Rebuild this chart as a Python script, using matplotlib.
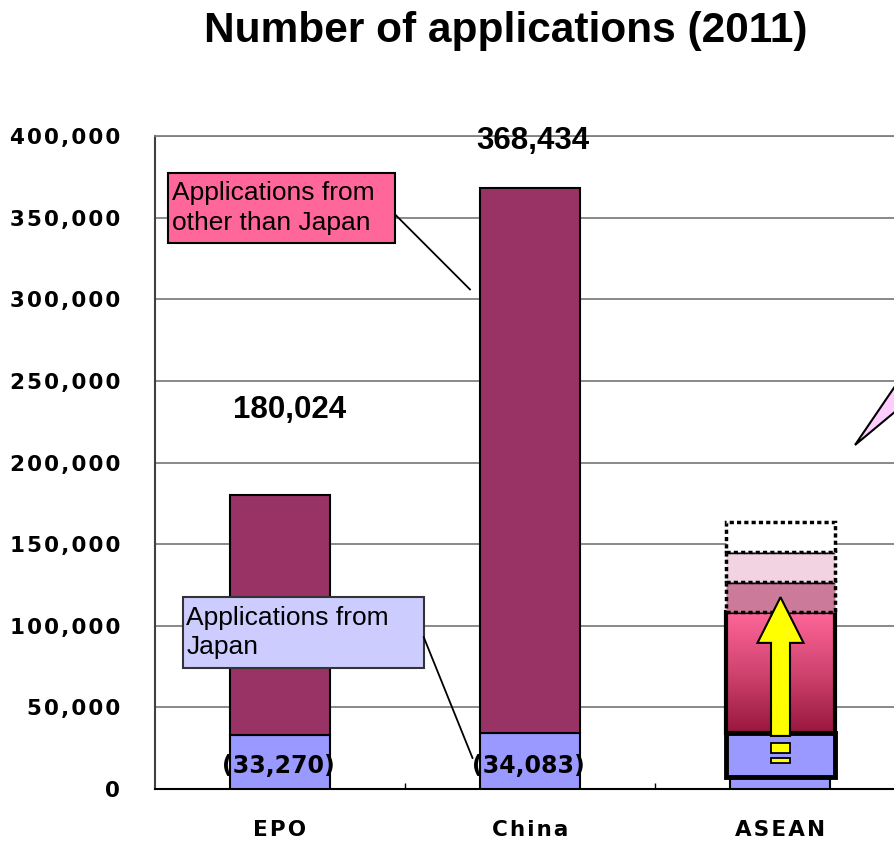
import numpy as np
import matplotlib.pyplot as plt
from matplotlib.patches import Rectangle, Polygon
from matplotlib.colors import LinearSegmentedColormap

categories = ['EPO', 'China', 'ASEAN']
from_japan = [33270, 34083, 7500]
totals = [180024, 368434]          # EPO, China
japan_labels = ['(33,270)', '(34,083)']
total_labels = ['180,024', '368,434']
# ASEAN illustration levels (bottom of blue box .. top of dotted box)
asean_levels = [7500, 34000, 108500, 127000, 145000, 163500]
yticks = list(range(0, 400001, 50000))

c_japan = '#9999FF'
c_other = '#993366'

def spaced(s):
    return '\u200a'.join(s)

fig = plt.figure(figsize=(8.95, 8.41), dpi=100)
ax = fig.add_axes([155/895, 52/841, 750/895, 653/841])

x = np.arange(len(categories))
other = [t - j for t, j in zip(totals, from_japan[:2])]

ax.bar(x, from_japan, width=0.4, color=c_japan, edgecolor='black', lw=1.5, zorder=3)
ax.bar(x[:2], other, bottom=from_japan[:2], width=0.4, color=c_other,
       edgecolor='black', lw=1.5, zorder=3)

# value labels
ax.text(0.04, 232000, total_labels[0], ha='center', va='center',
        fontsize=22.5, fontweight='bold', family='Liberation Sans')
ax.text(1.01, 397000, total_labels[1], ha='center', va='center',
        fontsize=22.5, fontweight='bold', family='Liberation Sans', zorder=5)
for i, lab in enumerate(japan_labels):
    ax.text(x[i] - 0.005, 14100, lab, ha='center', va='center',
            fontsize=17, fontweight='bold', zorder=5)

# ASEAN illustration
bw = 0.436
bx = 2.002 - bw / 2
lv = asean_levels
ax.add_patch(Rectangle((bx, lv[0]), bw, lv[1] - lv[0], fc=c_japan, ec='black', lw=3.5, zorder=4))
cmap = LinearSegmentedColormap.from_list('g', ['#99173F', '#D04470', '#FF6699'])
grad = np.linspace(0, 1, 100).reshape(-1, 1)
ax.imshow(grad, extent=[bx, bx + bw, lv[1], lv[2]], origin='lower', cmap=cmap,
          aspect='auto', zorder=4)
ax.add_patch(Rectangle((bx, lv[1]), bw, lv[2] - lv[1], fc='none', ec='black', lw=3, zorder=4))
ax.add_patch(Rectangle((bx, lv[2]), bw, lv[3] - lv[2], fc='#CC7A99', ec='black',
                       lw=2.5, ls=(0, (1.2, 0.9)), zorder=4))
ax.add_patch(Rectangle((bx, lv[3]), bw, lv[4] - lv[3], fc='#F2D3E1', ec='black',
                       lw=2.5, ls=(0, (1.2, 0.9)), zorder=4))
ax.add_patch(Rectangle((bx, lv[4]), bw, lv[5] - lv[4], fc='white', ec='black',
                       lw=2.5, ls=(0, (1.2, 0.9)), zorder=4))
ax.arrow(2.002, 32500, 0, 85000, width=0.076, head_width=0.184, head_length=28000,
         length_includes_head=True, fc='#FFFF00', ec='black', lw=1.5, zorder=6)
ax.add_patch(Rectangle((1.964, 22000), 0.076, 6200, fc='#FFFF00', ec='black', lw=1.3, zorder=6))
ax.add_patch(Rectangle((1.964, 15900), 0.076, 3100, fc='#FFFF00', ec='black', lw=1.3, zorder=6))

# callout pointer at right edge
ax.add_patch(Polygon([(2.3, 210700), (2.75, 312000), (2.75, 268000)], closed=True,
                     fc='#FFCCFF', ec='black', lw=1.5, clip_on=False, zorder=6))

# annotation boxes
ax.add_patch(Rectangle((-0.45, 334500), 0.91, 42800, fc='#FF6699', ec='black', lw=1.5,
                       clip_on=False, zorder=6))
ax.text(-0.43, 356000, 'Applications from\nother than Japan', ha='left', va='center',
        fontsize=19, family='Liberation Sans', linespacing=1.3, zorder=7)
ax.plot([0.46, 0.76], [352000, 306000], color='black', lw=1.3, zorder=6)

ax.add_patch(Rectangle((-0.39, 74000), 0.965, 43600, fc='#CCCCFF', ec='#333333', lw=1.5,
                       clip_on=False, zorder=6))
ax.text(-0.375, 95800, 'Applications from\nJapan', ha='left', va='center',
        fontsize=19, family='Liberation Sans', linespacing=1.3, zorder=7)
ax.plot([0.575, 0.77], [93000, 19000], color='black', lw=1.3, zorder=6)

# axes styling
ax.set_xlim(-0.5, 2.5)
ax.set_ylim(0, 400000)
ax.set_yticks(yticks)
ax.set_yticklabels([spaced(f'{v:,}') for v in yticks], fontweight='bold', fontsize=15.5)
ax.set_xticks(x)
ax.set_xticklabels([spaced(c) for c in categories], fontweight='bold', fontsize=15.5)
ax.set_xticks([0.5, 1.5], minor=True)
ax.tick_params(axis='y', length=0, pad=25)
ax.tick_params(axis='x', which='major', length=0, pad=22)
ax.tick_params(axis='x', which='minor', direction='in', length=4.5, width=1)
ax.grid(axis='y', color='#808080', lw=1.3, zorder=0)
ax.set_axisbelow(True)
ax.spines['right'].set_visible(False)
ax.spines['top'].set_color('#808080')
ax.spines['top'].set_linewidth(1.3)
ax.spines['left'].set_color('#404040')
ax.spines['left'].set_linewidth(1.5)
ax.spines['bottom'].set_linewidth(1.5)

fig.text(506/895, 1 - 31/841, 'Number of applications (2011)', ha='center', va='center',
         fontsize=30.5, fontweight='bold', family='Liberation Sans')

fig.savefig('out.png', dpi=100)
